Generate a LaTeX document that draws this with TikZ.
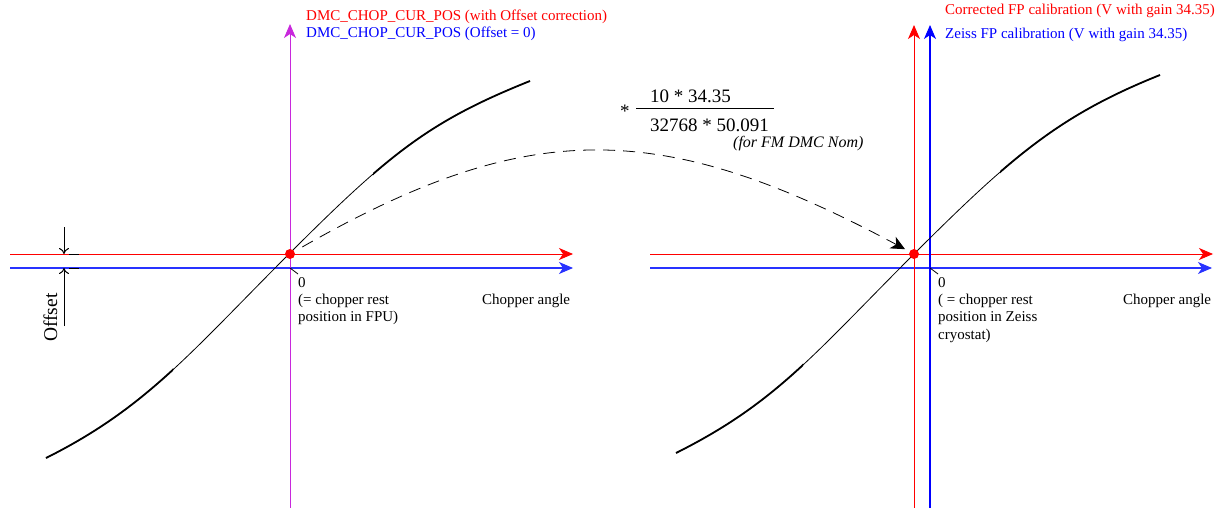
\documentclass[tikz,border=0pt]{standalone}
\usepackage{fontspec}
\setmainfont{Liberation Serif}
\usetikzlibrary{arrows.meta}
\definecolor{axmag}{RGB}{200,40,220}
\definecolor{axblue}{RGB}{40,50,255}
\begin{document}
\begin{tikzpicture}[x=1pt,y=-1pt,
  txt/.style={font=\fontsize{15}{17.5}\selectfont, inner sep=0pt, anchor=base west},
  bigtxt/.style={font=\fontsize{19}{22}\selectfont, inner sep=0pt, anchor=base west},
  axtip/.style={-{Stealth[length=14pt,width=12pt,inset=4pt]}},
  redax/.style={draw=red, line width=1pt, axtip},
  blueax/.style={draw=axblue, line width=1.1pt, axtip},
  magax/.style={draw=axmag, line width=1pt, axtip},
  reddot/.style={circle, fill=red, inner sep=0pt, minimum size=10pt},
  thincurve/.style={line width=0.8pt},
  thickcurve/.style={line width=1.8pt},
  ticks/.style={line width=0.8pt},
  offarrow/.style={line width=1pt, -{To[length=6pt,width=10pt]}},
  mapping/.style={line width=0.8pt, dash pattern=on 12pt off 8pt, -{Stealth[length=14pt,width=13pt,inset=4pt]}}
]
\useasboundingbox (0,0) rectangle (1229,508);

% ---------------- left diagram ----------------
\coordinate (LO) at (290,254);
\coordinate (LredS) at (10,254);  \coordinate (LredE) at (573,254);
\coordinate (LblueS) at (10,268); \coordinate (LblueE) at (573,268);
\coordinate (LvS) at (290,508);   \coordinate (LvE) at (290,24);
\coordinate (LB) at (290,268);    \coordinate (LT) at (298,274);

\draw[redax] (LredS) -- (LredE);
\draw[blueax] (LblueS) -- (LblueE);
\draw[magax] (LvS) -- (LvE);
\draw[ticks] (LB) -- (LT);

% left curve
\def\leftcurve{(46,458) .. controls (146,408) and (190,353) .. (290,253) .. controls (390,153) and (430,121) .. (530,81)}
\draw[thincurve] \leftcurve;
\begin{scope}
  \clip (0,0) rectangle (173,508);
  \draw[thickcurve] \leftcurve;
\end{scope}
\begin{scope}
  \clip (373,0) rectangle (620,508);
  \draw[thickcurve] \leftcurve;
\end{scope}

\node[reddot] (Ldot) at (LO) {};

% offset indicator
\coordinate (offTop) at (64,227); \coordinate (offA) at (64,254);
\coordinate (offB) at (64,268);   \coordinate (offBot) at (64,326);
\coordinate (tA1) at (69,254); \coordinate (tA2) at (79,254);
\coordinate (tB1) at (69,268); \coordinate (tB2) at (79,268);
\draw[offarrow] (offTop) -- (offA);
\draw[offarrow] (offBot) -- (offB);
\draw[ticks] (tA1) -- (tA2);
\draw[ticks] (tB1) -- (tB2);
\node[font=\fontsize{19.5}{22}\selectfont, inner sep=0pt, anchor=base west, rotate=90] (offlbl) at (57,342) {Offset};

% left labels
\node[txt, text=red] (lblLred) at (306,21) {DMC\_CHOP\_CUR\_POS (with Offset correction)};
\node[txt, text=blue] (lblLblue) at (306,38) {DMC\_CHOP\_CUR\_POS (Offset = 0)};
\node[txt] (Lzero) at (298,287) {0};
\node[txt] (Lrest1) at (298,304) {(= chopper rest};
\node[txt] (Lrest2) at (298,321) {position in FPU)};
\node[txt] (Lang) at (482,304) {Chopper angle};

% ---------------- right diagram ----------------
\coordinate (RO) at (914,254);
\coordinate (RredS) at (650,254);  \coordinate (RredE) at (1213,254);
\coordinate (RblueS) at (650,268); \coordinate (RblueE) at (1212,268);
\coordinate (RvrS) at (914,508);   \coordinate (RvrE) at (914,25);
\coordinate (RvbS) at (930,508);   \coordinate (RvbE) at (930,25);
\coordinate (RB) at (930,268);     \coordinate (RT) at (938,274);

\draw[redax] (RredS) -- (RredE);
\draw[blueax] (RblueS) -- (RblueE);
\draw[redax] (RvrS) -- (RvrE);
\draw[blueax, draw=blue] (RvbS) -- (RvbE);
\draw[ticks] (RB) -- (RT);

\def\rightcurve{(676,453) .. controls (776,403) and (814,354) .. (914,254) .. controls (1012,156) and (1060,115) .. (1160,75)}
\draw[thincurve] \rightcurve;
\begin{scope}
  \clip (620,0) rectangle (803,508);
  \draw[thickcurve] \rightcurve;
\end{scope}
\begin{scope}
  \clip (1000,0) rectangle (1229,508);
  \draw[thickcurve] \rightcurve;
\end{scope}

\node[reddot] (Rdot) at (RO) {};

\node[txt, text=red] (lblRred) at (945,15) {Corrected FP calibration (V with gain 34.35)};
\node[txt, text=blue] (lblRblue) at (945,39) {Zeiss FP calibration (V with gain 34.35)};
\node[txt] (Rzero) at (938,287) {0};
\node[txt] (Rrest1) at (938,304) {( = chopper rest};
\node[txt] (Rrest2) at (938,321) {position in Zeiss};
\node[txt] (Rrest3) at (938,339) {cryostat)};
\node[txt] (Rang) at (1123,304) {Chopper angle};

% ---------------- conversion factor ----------------
\node[font=\fontsize{19}{22}\selectfont, inner sep=0pt, anchor=base west] (star) at (620,118) {*};
\node[bigtxt] (num) at (650,103) {10 * 34.35};
\node[bigtxt] (den) at (650,132) {32768 * 50.091};
\coordinate (ruleS) at (636,108); \coordinate (ruleE) at (774,108);
\draw[line width=0.8pt] (ruleS) -- (ruleE);
\node[font=\fontsize{16}{19}\selectfont\itshape, inner sep=0pt, anchor=base west] (fornote) at (733,148) {(for FM DMC Nom)};

% mapping arrow
\draw[mapping, shorten <=9pt, shorten >=5pt] (Ldot) .. controls (528,118) and (660,118) .. (Rdot);
\end{tikzpicture}
\end{document}
